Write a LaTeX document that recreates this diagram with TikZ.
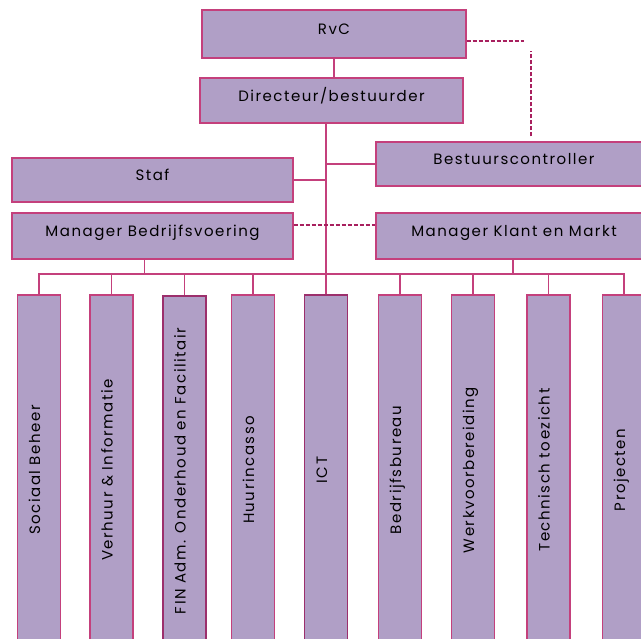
\documentclass[tikz,border=0pt]{standalone}
\usepackage{fontspec}
\setmainfont{Poppins}[LetterSpace=10]
\definecolor{orgfill}{HTML}{B09FC6}
\definecolor{orgline}{HTML}{C4407C}
\definecolor{orgdark}{HTML}{9C2F6C}
\definecolor{orgdash}{HTML}{A8205E}

\begin{document}
\begin{tikzpicture}[x=1pt, y=-1pt,
	box/.style={draw=orgline, fill=orgfill, line width=1.4pt, inner sep=0pt, text height=9pt, text depth=7pt, font=\fontsize{15}{17}\selectfont},
	unit/.style={box, rotate=90, minimum width=350pt, minimum height=43pt},
	wire/.style={orgline, line width=1.3pt},
	dashwire/.style={orgdash, line width=1.5pt, dash pattern=on 4pt off 2pt}]
	\useasboundingbox (0,0) rectangle (641,639);
	% Boxes, lines and dashed links:
	\node[box, minimum width=264pt, minimum height=48pt] (rvc) at (334, 34) {RvC};
	\node[box, minimum width=263pt, minimum height=45pt] (dir) at (331.5, 100.5) {Directeur/bestuurder};
	\node[box, minimum width=276pt, minimum height=44pt] (bc) at (514, 164) {Bestuurscontroller};
	\node[box, minimum width=281pt, minimum height=44pt] (staf) at (152.5, 180) {Staf};
	\node[box, minimum width=281pt, minimum height=46pt] (mb) at (152.5, 236) {Manager Bedrijfsvoering};
	\node[box, minimum width=276pt, minimum height=46pt] (mkm) at (514, 236) {Manager Klant en Markt};
	\node[unit] (soc) at (39, 470) {Sociaal Beheer};
	\node[unit] (ver) at (111.5, 470) {Verhuur \& Informatie};
	\node[unit, draw=orgdark] (fin) at (184.5, 471) {FIN Adm. Onderhoud en Facilitair};
	\node[unit] (huur) at (253, 470) {Huurincasso};
	\node[unit, draw=orgdark] (ict) at (326, 470) {ICT};
	\node[unit] (bb) at (400, 470) {Bedrijfsbureau};
	\node[unit] (wv) at (473, 470) {Werkvoorbereiding};
	\node[unit] (tt) at (548.5, 470) {Technisch toezicht};
	\node[unit] (proj) at (624, 470) {Projecten};
	\coordinate (bus) at (0, 274);
	\draw[wire] (rvc.south) -- (rvc.south |- dir.north);
	\draw[wire] (dir.south -| ict.east) -- (ict.east);
	\draw[wire] (staf.east) -- (staf.east -| ict.east);
	\draw[wire] (bc.west) -- (bc.west -| ict.east);
	\draw[wire] (soc.east) -- (soc.east |- bus) -- (proj.east |- bus) -- (proj.east);
	\foreach \u in {ver, fin, huur, bb, wv, tt}
		\draw[wire] (\u.east) -- (\u.east |- bus);
	\draw[wire] ([xshift=-8pt]mb.south) -- ([xshift=-8pt]mb.south |- bus);
	\draw[wire] ([xshift=-1pt]mkm.south) -- ([xshift=-1pt]mkm.south |- bus);
	\draw[dashwire] ([yshift=11pt]mb.east) -- ([yshift=11pt]mkm.west);
	\draw[dashwire] ([yshift=-7pt]rvc.east) -- ++(57, 0);
	\draw[dashwire] ([xshift=17pt, yshift=5pt]bc.north) -- ++(0, -85);
\end{tikzpicture}
\end{document}
